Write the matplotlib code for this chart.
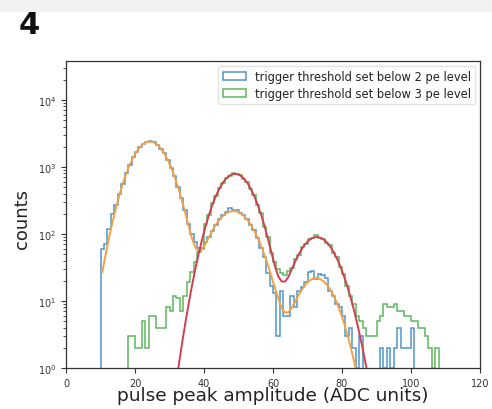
#!/usr/bin/env python3
import numpy as np
import matplotlib
matplotlib.use("Agg")
import matplotlib.pyplot as plt
from matplotlib.patches import Rectangle

# histogram counts, 1 ADC unit bins (left edges given)
blue_left = np.arange(10, 101)
blue_counts = [
    60, 72, 120, 200, 270, 390, 560, 800, 1060, 1400,
    1690, 1980, 2230, 2350, 2400, 2330, 2150, 1870, 1590, 1280,
    960, 720, 500, 340, 225, 140, 100, 75, 62, 60,
    75, 90, 112, 138, 165, 190, 215, 245, 230, 226,
    205, 190, 165, 138, 115, 88, 62, 45, 26, 17,
    13, 3, 14, 6, 6, 12, 8, 14, 16, 19,
    27, 28, 21, 25, 24, 22, 14, 12, 9, 8,
    6, 3, 4, 2, 1, 3, 0, 0, 0, 0,
    0, 2, 1, 2, 1, 2, 4, 2, 2, 2,
    4,
]

green_left = np.arange(18, 108)
green_counts = [
    3, 3, 2, 2, 5, 2, 6, 6, 4, 4,
    4, 8, 7, 12, 11, 7, 12, 19, 27, 38,
    53, 62, 140, 190, 285, 365, 490, 575, 690, 740,
    800, 775, 760, 665, 595, 470, 380, 270, 205, 128,
    90, 52, 38, 30, 26, 24, 28, 31, 42, 48,
    64, 70, 84, 86, 95, 88, 85, 73, 68, 52,
    45, 32, 25, 17, 12, 9, 6, 5, 4, 3,
    3, 3, 5, 6, 9, 8, 8, 9, 7, 7,
    6, 6, 5, 5, 4, 4, 3, 2, 1, 2,
]

# fitted curves, evaluated at bin centres
orange_x = np.arange(10.5, 85.0, 1.0)
orange_y = [
    26.7, 50, 89.5, 152, 248, 385, 570, 805, 1084, 1392,
    1706, 1994, 2223, 2364, 2398, 2320, 2140, 1884, 1582, 1267,
    969, 706, 492, 328, 211, 134, 86, 62.5, 55, 59.4,
    72.3, 91.1, 114, 139, 164, 186, 204, 216, 220, 216,
    204, 186, 164, 139, 113, 89, 67.4, 49.2, 34.6, 23.5,
    16.1, 11.0, 7.9, 6.7, 6.8, 8.0, 9.9, 12.5, 15.1, 17.8,
    20.0, 21.5, 22, 21.5, 20.0, 17.8, 15.1, 12.2, 9.4, 6.9,
    4.85, 3.25, 2.07, 1.26, 0.73,
]

red_x = np.arange(32.5, 88.0, 1.0)
red_y = [
    0.95, 2.1, 4.4, 8.8, 16.7, 30.2, 51.9, 85, 133, 197,
    278, 374, 479, 584, 677, 747, 785, 785, 747, 677,
    584, 479, 374, 278, 197, 134, 86, 54, 34, 23.5,
    19.5, 19.5, 23, 30.2, 39.5, 50, 61.4, 72.1, 81, 87.2,
    90, 88.8, 83.9, 75.9, 65.8, 54.6, 43.4, 33, 24, 16.8,
    11.2, 7.2, 4.4, 2.57, 1.44, 0.78,
]

labels = ["trigger threshold set below 2 pe level",
          "trigger threshold set below 3 pe level"]

BLUE = "#4f94cd"
GREEN = "#5cb85c"
ORANGE = "#f5a142"
RED = "#d33f4f"

fig = plt.figure(figsize=(4.92, 4.10), dpi=100)
fig.patches.append(Rectangle((0, 1 - 12 / 410), 1, 12 / 410,
                             transform=fig.transFigure, color="#f3f2f3", zorder=0))
fig.text(19 / 492, 1 - 25 / 410, "4", fontsize=22, fontweight="bold",
         va="center", ha="left", color="#111111")

ax = fig.add_axes([66 / 492, 1 - 369 / 410, 414 / 492, 307 / 410])

blue_edges = np.append(blue_left, blue_left[-1] + 1)
green_edges = np.append(green_left, green_left[-1] + 1)

ax.hist(blue_left, bins=blue_edges, weights=blue_counts, histtype="step",
        log=True, color=BLUE, linewidth=1.1, label=labels[0])
ax.hist(green_left, bins=green_edges, weights=green_counts, histtype="step",
        log=True, color=GREEN, linewidth=1.1, label=labels[1])

ax.plot(orange_x, orange_y, color=ORANGE, linewidth=1.4)
ax.plot(red_x, red_y, color=RED, linewidth=1.4)

ax.set_xlim(0, 120)
ax.set_ylim(1, 10 ** 4.58)
ax.set_xticks([0, 20, 40, 60, 80, 100, 120])

ax.tick_params(axis="both", which="major", labelsize=7, colors="#333333", length=3.5)
ax.tick_params(axis="both", which="minor", length=2, colors="#333333")
for s in ax.spines.values():
    s.set_color("#333333")
    s.set_linewidth(0.9)

ax.set_xlabel("pulse peak amplitude (ADC units)", fontsize=13.3, color="#222222")
ax.set_ylabel("counts", fontsize=13, color="#222222")
ax.xaxis.set_label_coords(0.5, -0.06)
ax.yaxis.set_label_coords(-0.085, 0.49)

leg = ax.legend(loc="upper right", fontsize=8.3, frameon=True, borderpad=0.4,
                handlelength=2.0, labelspacing=0.3, borderaxespad=0.4)
leg.get_frame().set_edgecolor("#dddddd")
for t in leg.get_texts():
    t.set_color("#222222")

fig.savefig("out.png", dpi=100)
